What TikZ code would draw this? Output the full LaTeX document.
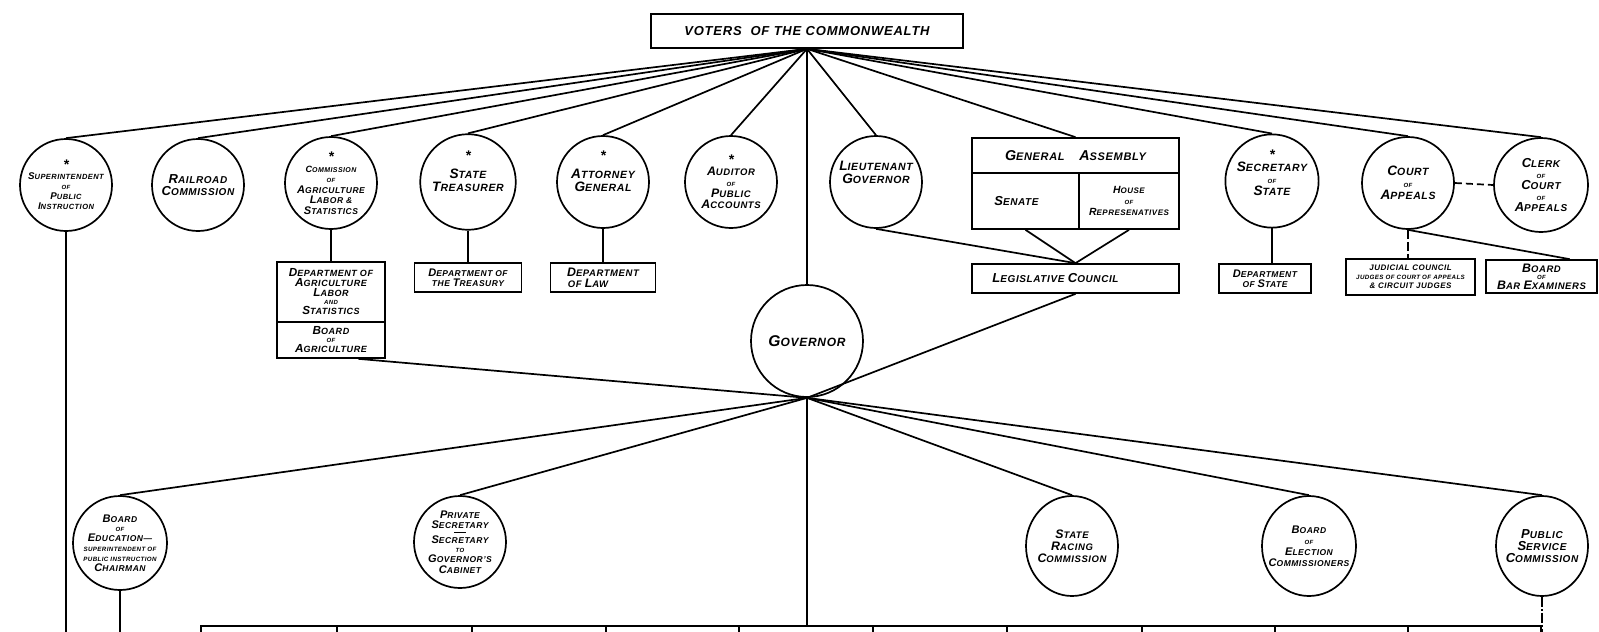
\documentclass[tikz,border=0pt]{standalone}
\usepackage{fontspec}
\usepackage{graphicx}
\setmainfont[LetterSpace=6]{Liberation Sans}
\usetikzlibrary{shapes.geometric,calc}
\newcommand\cp[1]{\scalebox{1.3}{#1}}
\newcommand\sm[1]{{\fontsize{6pt}{6pt}\selectfont #1}}
\newcommand\st{{\fontsize{14pt}{10pt}\selectfont *}}
\tikzset{
  ln/.style={line width=1.7pt},
  fs/.style 2 args={font=\bfseries\itshape\fontsize{#1pt}{#2pt}\selectfont},
  circ/.style={draw, circle, line width=1.7pt, minimum size=92pt, inner sep=0pt, align=center, fs={10}{12}},
  ell/.style={draw, ellipse, line width=1.7pt, minimum width=92pt, minimum height=100pt, inner xsep=-14pt, inner ysep=0pt, align=center, fs={10}{12}},
  bx/.style={draw, rectangle, line width=1.7pt, inner sep=0pt, align=center, fs={9}{10.5}},
  dsh/.style={line width=1.7pt, dash pattern=on 7pt off 4pt},
}
\begin{document}
\begin{tikzpicture}[x=1pt,y=-1pt]
\clip (0,0) rectangle (1599,632);
\fill[white] (0,0) rectangle (1599,632);
\coordinate (bot) at (0,645);
% top box
\node[bx, fs={13}{15}, minimum width=312pt, minimum height=34pt] (voters) at (807,31) {VOTERS\ \ OF THE COMMONWEALTH};
% top row
\node[circ, fs={7.5}{10}] (sup) at (66,185) {\st\\\cp{S}UPERINTENDENT\\\sm{OF}\\\cp{P}UBLIC\\\cp{I}NSTRUCTION};
\node[circ] (rail) at (198,185) {\cp{R}AILROAD\\\cp{C}OMMISSION};
\node[circ, fs={8.5}{10.5}] (comm) at (331,183) {\st\\{\fontsize{7pt}{8pt}\selectfont\cp{C}OMMISSION}\\\sm{OF}\\\cp{A}GRICULTURE\\\cp{L}ABOR \&\\\cp{S}TATISTICS};
\node[circ, fs={10.5}{12.5}] (treas) at (468,182) {\st\\[6pt]\cp{S}TATE\\\cp{T}REASURER\\[10pt]};
\node[circ, fs={10.5}{12.5}] (atty) at (603,182) {\st\\[6pt]\cp{A}TTORNEY\\\cp{G}ENERAL\\[10pt]};
\node[circ, fs={9.5}{11}] (aud) at (731,182) {\st\\\cp{A}UDITOR\\\sm{OF}\\\cp{P}UBLIC\\\cp{A}CCOUNTS};
\node[circ, fs={10.5}{13}] (lt) at (876,182) {\cp{L}IEUTENANT\\\cp{G}OVERNOR\\[6pt]};
\node[bx, fs={11}{12}, minimum width=207pt, minimum height=35pt] (ga) at (1075.5,155.5) {\cp{G}ENERAL\quad\ \cp{A}SSEMBLY};
\node[bx, fs={10}{12}, minimum width=107pt, minimum height=56pt] (senate) at (1025.5,201) {\cp{S}ENATE\hspace*{18pt}};
\node[bx, fs={8}{11}, minimum width=100pt, minimum height=56pt] (house) at (1129,201) {\cp{H}OUSE\\\sm{OF}\\\cp{R}EPRESENATIVES};
\node[bx, fs={10}{12}, minimum width=207pt, minimum height=29pt] (lc) at (1075.5,278.5) {\cp{L}EGISLATIVE \cp{C}OUNCIL\hspace*{40pt}};
\node[circ, fs={10.5}{12}] (sec) at (1272,181) {\st\\\cp{S}ECRETARY\\\sm{OF}\\\cp{S}TATE\\[4pt]};
\node[circ, fs={10.5}{12}] (court) at (1408,183) {\cp{C}OURT\\\sm{OF}\\\cp{A}PPEALS};
\node[circ, fs={10}{11}, minimum size=94pt] (clerk) at (1541,185) {\cp{C}LERK\\\sm{OF}\\\cp{C}OURT\\\sm{OF}\\\cp{A}PPEALS};
% department boxes
\node[bx, fs={9}{10}, minimum width=108pt, minimum height=60pt] (agri) at (331,292) {\cp{D}EPARTMENT OF\\\cp{A}GRICULTURE\\\cp{L}ABOR\\[-2pt]\sm{AND}\\\cp{S}TATISTICS};
\node[bx, fs={9}{10}, minimum width=108pt, minimum height=36pt] (bagri) at (331,340) {\cp{B}OARD\\[-2pt]\sm{OF}\\\cp{A}GRICULTURE};
\node[bx, fs={8.5}{10}, minimum width=107pt, minimum height=29pt] (treasury) at (468,277.5) {\cp{D}EPARTMENT OF\\THE \cp{T}REASURY};
\node[bx, fs={9.5}{11}, minimum width=105pt, minimum height=29pt] (law) at (603,277.5) {\cp{D}EPARTMENT\\OF \cp{L}AW\hspace*{30pt}};
\node[bx, fs={8.5}{10.5}, minimum width=92pt, minimum height=29pt] (dstate) at (1265,278.5) {\cp{D}EPARTMENT\\OF \cp{S}TATE};
\node[bx, fs={8}{9}, minimum width=129pt, minimum height=36pt] (jud) at (1410.5,277) {JUDICIAL COUNCIL\\{\fontsize{6.2pt}{8pt}\selectfont JUDGES OF COURT OF APPEALS}\\\& CIRCUIT JUDGES};
\node[bx, fs={9.5}{10}, minimum width=111pt, minimum height=33pt] (bar) at (1541.5,276.5) {\cp{B}OARD\\[-3pt]\sm{OF}\\\cp{B}AR \cp{E}XAMINERS};
% governor
\node[circ, fs={12}{14}, minimum size=112pt] (gov) at (807,341) {\cp{G}OVERNOR};
% bottom row circles
\node[circ, fs={8.5}{10}, minimum size=94pt] (edu) at (120,543) {\cp{B}OARD\\[-1pt]\sm{OF}\\\cp{E}DUCATION---\\{\fontsize{6.2pt}{8pt}\selectfont SUPERINTENDENT OF}\\{\fontsize{6.2pt}{8pt}\selectfont PUBLIC INSTRUCTION}\\\cp{C}HAIRMAN};
\node[circ, fs={8.5}{10.5}] (priv) at (460,542) {\cp{P}RIVATE\\\cp{S}ECRETARY\\[-6pt]\rule{12pt}{1pt}\\[0pt]\cp{S}ECRETARY\\[-2pt]\sm{TO}\\\cp{G}OVERNOR'S\\\cp{C}ABINET};
\node[ell, fs={9.5}{12}] (racing) at (1072,546) {\cp{S}TATE\\\cp{R}ACING\\\cp{C}OMMISSION};
\node[ell, fs={8.5}{11}, minimum width=94pt] (elect) at (1309,546) {\cp{B}OARD\\\sm{OF}\\\cp{E}LECTION\\\cp{C}OMMISSIONERS};
\node[ell, fs={10}{12}] (pubsvc) at (1542,546) {\cp{P}UBLIC\\\cp{S}ERVICE\\\cp{C}OMMISSION};
% bottom boxes
\foreach \i/\x/\w in {1/200/136,2/336/135,3/471/134,4/605/133,5/738/134,6/872/134,7/1006/135,8/1141/133,9/1274/133,10/1407/133}
  \node[bx, anchor=north west, minimum width=\w pt, minimum height=40pt] (b\i) at (\x,625) {};
% connectors from voters
\foreach \n in {sup,rail,comm,treas,atty,aud,lt,ga,sec,court,clerk,gov}
  \draw[ln] (voters.south) -- (\n.north);
% vertical links to departments
\draw[ln] (comm.south) -- (agri.north);
\draw[ln] (treas.south) -- (treasury.north);
\draw[ln] (atty.south) -- (law.north);
\draw[ln] (sec.south) -- (sec.south |- dstate.north);
\draw[ln] (lt.south) -- (lc.north);
\draw[ln] (senate.south) -- (lc.north);
\draw[ln] (house.south) -- (lc.north);
\draw[dsh] (court.east) -- (clerk.west);
\draw[line width=1.7pt, dash pattern=on 9pt off 3pt] (court.south) -- (court.south |- jud.north);
\draw[ln] (court.south) -- ($(bar.north)!0.5!(bar.north east)$);
% governor links
\draw[ln] (gov.south) -- ($(bagri.south)!0.5!(bagri.south east)$);
\draw[ln] (gov.south) -- (lc.south);
\foreach \n in {edu,priv,racing,elect,pubsvc}
  \draw[ln] (gov.south) -- (\n.north);
\draw[ln] (gov.south) -- (gov.south |- b5.north);
% long verticals
\draw[ln] (sup.south) -- (sup.south |- bot);
\draw[ln] (edu.south) -- (edu.south |- bot);
\draw[line width=1.5pt, dash pattern=on 10pt off 2pt on 2pt off 2pt] (pubsvc.south) -- (pubsvc.south |- bot);
\end{tikzpicture}
\end{document}
